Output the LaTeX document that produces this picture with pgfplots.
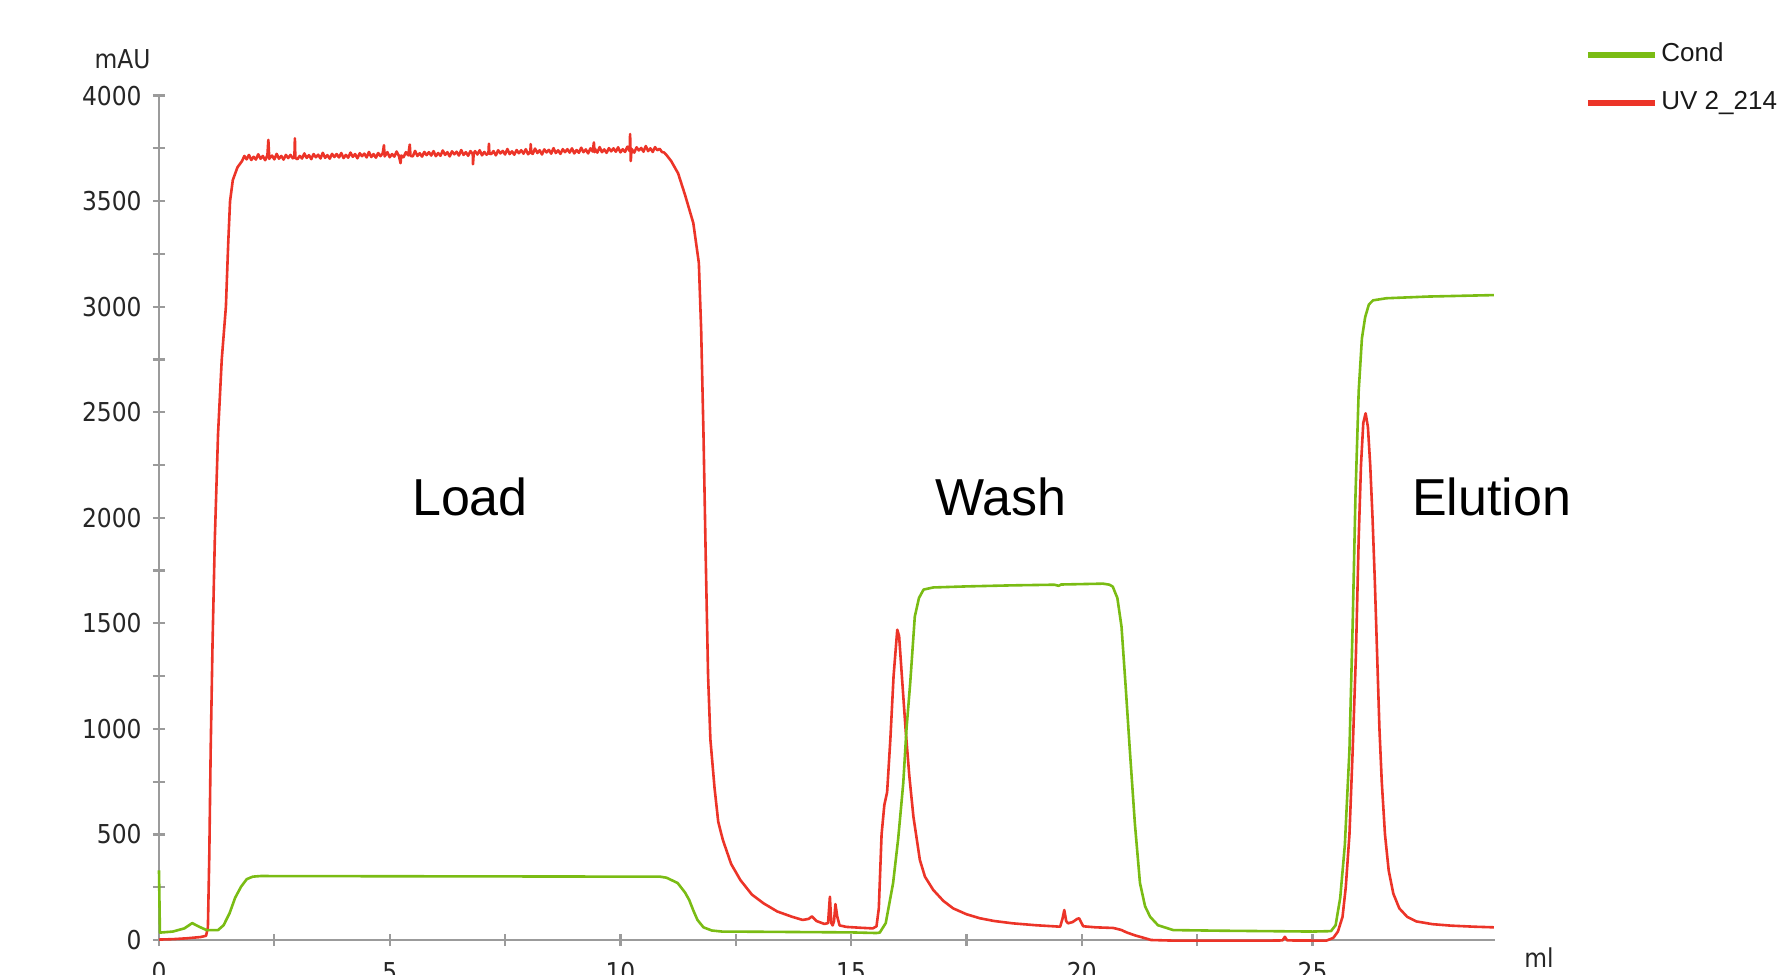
\documentclass[border=0pt]{standalone}
\usepackage{fontspec}
\setmainfont{Liberation Sans}
\newfontfamily\tickfont{DejaVu Sans Condensed}
\usepackage{pgfplots}
\usepackage{pgfplotstable}
\pgfplotsset{compat=1.18}
\definecolor{uvred}{RGB}{236,52,40}
\definecolor{condgreen}{RGB}{122,188,20}
\definecolor{axgray}{RGB}{155,155,155}

\pgfplotstableread{
x y
0 2
0.3 4
0.6 8
0.9 14
1.02 20
1.06 60
1.09 400
1.12 900
1.16 1400
1.21 1900
1.28 2400
1.36 2750
1.45 3000
1.50 3300
1.54 3500
1.60 3600
1.70 3660
1.80 3690
1.85 3714
1.90 3698
1.95 3719
2.00 3695
2.05 3710
2.10 3697
2.15 3722
2.20 3701
2.25 3714
2.30 3694
2.35 3718
2.37 3790
2.39 3700
2.40 3704
2.45 3716
2.50 3698
2.55 3724
2.60 3701
2.65 3714
2.70 3697
2.75 3719
2.80 3704
2.85 3719
2.90 3703
2.935 3712
2.945 3798
2.955 3704
3.00 3699
3.05 3714
3.10 3702
3.15 3726
3.20 3705
3.25 3718
3.30 3699
3.35 3723
3.40 3708
3.45 3720
3.50 3702
3.55 3729
3.60 3705
3.65 3718
3.70 3701
3.75 3724
3.80 3709
3.85 3723
3.90 3707
3.95 3728
4.00 3704
4.05 3719
4.10 3706
4.15 3730
4.20 3710
4.25 3723
4.30 3703
4.35 3727
4.40 3713
4.45 3725
4.50 3707
4.55 3733
4.60 3709
4.65 3723
4.70 3706
4.75 3728
4.80 3713
4.85 3728
4.875 3765
4.89 3712
4.95 3732
5.00 3708
5.05 3723
5.10 3711
5.15 3735
5.20 3714
5.235 3680
5.25 3716
5.30 3708
5.35 3732
5.40 3717
5.435 3768
5.45 3715
5.50 3712
5.55 3738
5.60 3714
5.65 3727
5.70 3711
5.75 3733
5.80 3718
5.85 3732
5.90 3716
5.95 3737
6.00 3713
6.05 3728
6.10 3715
6.15 3740
6.20 3719
6.25 3732
6.30 3712
6.35 3736
6.40 3722
6.45 3734
6.50 3716
6.55 3742
6.60 3719
6.65 3732
6.70 3715
6.75 3737
6.80 3723
6.805 3675
6.82 3725
6.85 3737
6.90 3721
6.95 3741
7.00 3717
7.05 3733
7.10 3720
7.14 3728
7.15 3772
7.16 3725
7.20 3723
7.25 3737
7.30 3717
7.35 3741
7.40 3726
7.45 3738
7.50 3721
7.55 3747
7.60 3723
7.65 3736
7.70 3720
7.75 3742
7.80 3727
7.85 3741
7.90 3725
7.95 3746
8.00 3722
8.05 3737
8.055 3770
8.07 3728
8.10 3724
8.15 3749
8.20 3728
8.25 3741
8.30 3721
8.35 3745
8.40 3731
8.45 3743
8.50 3725
8.55 3751
8.60 3728
8.65 3741
8.70 3724
8.75 3746
8.80 3732
8.85 3746
8.90 3730
8.95 3750
9.00 3726
9.05 3742
9.10 3729
9.15 3753
9.20 3732
9.25 3745
9.30 3726
9.35 3750
9.40 3735
9.425 3778
9.44 3732
9.45 3747
9.50 3730
9.55 3756
9.60 3732
9.65 3745
9.70 3729
9.75 3751
9.80 3736
9.85 3750
9.90 3734
9.95 3755
10.00 3731
10.05 3746
10.10 3733
10.15 3758
10.20 3737
10.21 3818
10.225 3690
10.24 3748
10.30 3730
10.35 3755
10.40 3740
10.45 3752
10.50 3734
10.55 3761
10.60 3737
10.65 3750
10.70 3733
10.75 3756
10.80 3741
10.85 3748
10.90 3733
10.95 3730
11.00 3718
11.10 3690
11.25 3632
11.40 3530
11.58 3396
11.70 3207
11.75 2890
11.80 2400
11.85 1800
11.90 1250
11.95 950
12.04 720
12.12 560
12.22 474
12.40 360
12.60 284
12.85 215
13.10 174
13.40 135
13.72 110
13.95 95
14.08 100
14.15 112
14.25 90
14.42 76
14.50 80
14.54 205
14.57 80
14.60 69
14.63 90
14.66 170
14.70 110
14.75 69
14.90 62
15.20 58
15.47 55
15.55 65
15.60 150
15.66 500
15.72 640
15.78 700
15.85 950
15.92 1250
16.00 1470
16.04 1440
16.10 1250
16.18 1000
16.26 780
16.35 584
16.49 379
16.60 300
16.78 237
17.00 185
17.21 150
17.50 122
17.79 103
18.10 90
18.50 79
19.00 70
19.53 63
19.58 100
19.62 142
19.66 90
19.70 79
19.80 85
19.90 100
19.94 103
20.03 65
20.30 60
20.68 57
20.85 48
20.97 36
21.15 22
21.33 11
21.50 0
22.00 -3
23.00 -3
24.00 -3
24.35 -2
24.40 15
24.45 -2
25.30 -3
25.45 10
25.55 40
25.65 110
25.72 250
25.80 500
25.87 900
25.94 1350
26.00 1900
26.05 2250
26.10 2450
26.15 2495
26.20 2430
26.25 2250
26.30 2000
26.35 1700
26.40 1350
26.45 1000
26.50 750
26.57 500
26.65 330
26.75 220
26.88 150
27.05 110
27.25 88
27.60 75
28.00 68
28.50 63
28.93 60
}\uvtable

\pgfplotstableread{
x y
0 330
0.02 35
0.3 40
0.55 55
0.72 80
0.85 65
1.03 47
1.28 47
1.40 70
1.53 127
1.65 200
1.78 253
1.90 288
2.03 300
2.2 303
5 302
8 301
10.86 300
11.00 295
11.24 270
11.40 225
11.49 190
11.58 140
11.67 95
11.80 60
11.98 45
12.2 40
13 39
15 36
15.55 33
15.62 35
15.75 80
15.91 270
16.02 480
16.13 743
16.20 1000
16.28 1216
16.38 1532
16.47 1620
16.57 1660
16.78 1670
17.5 1675
18.5 1680
19.4 1683
19.5 1678
19.55 1684
20.46 1688
20.60 1683
20.67 1674
20.77 1620
20.86 1484
20.95 1200
21.04 900
21.15 550
21.26 270
21.37 160
21.48 110
21.65 70
21.98 47
23 44
24 42
25 40
25.4 42
25.5 70
25.6 200
25.7 450
25.8 900
25.87 1500
25.93 2100
26.00 2600
26.07 2850
26.14 2950
26.22 3010
26.31 3030
26.6 3040
27.5 3048
28.93 3055
}\condtable

\begin{document}
\begin{tikzpicture}
\path[use as bounding box] (-79.5pt,-17.5pt) rectangle (812.5pt,470pt);
\begin{axis}[
  at={(0pt,0pt)}, anchor=south west,
  width=667.9pt, height=422.2pt, scale only axis,
  xmin=0, xmax=28.95, ymin=0, ymax=4000,
  clip=false,
  axis x line*=bottom, axis y line*=left,
  axis line style={axgray, line width=1.2pt, -},
  xtick={0,5,...,25}, ytick={0,500,...,4000},
  minor x tick num=1, minor y tick num=1,
  tick align=center,
  major tick length=6pt, minor tick length=6pt,
  tick style={axgray, line width=1.1pt},
  /pgf/number format/assume math mode=true,
  /pgf/number format/1000 sep={},
  ticklabel style={font=\tickfont\fontsize{13}{15}\selectfont, text=black!85},
  yticklabel style={inner sep=0pt},
  xticklabel style={inner sep=0pt},
  yticklabel shift=5.5pt,
  xticklabel shift=8pt,
  ylabel={mAU},
  ylabel style={rotate=-90, at={(rel axis cs:-0.006,1.043)}, anchor=east, inner sep=0pt, font=\tickfont\fontsize{13}{15}\selectfont, text=black!85},
  xlabel={ml},
  xlabel style={at={(rel axis cs:1.033,0)}, anchor=base, yshift=-14pt, inner sep=0pt, font=\tickfont\fontsize{13}{15}\selectfont, text=black!85},
  reverse legend,
  legend style={draw=none, fill=none, at={(rel axis cs:1.0675,1.0197)}, anchor=west,
    inner sep=0pt, outer sep=0pt, row sep=12pt, column sep=1.7pt,
    font=\fontsize{13}{15}\selectfont, text=black!90,
    nodes={inner sep=0pt, text height=9.3pt, text depth=2.5pt}},
  legend cell align=left,
  legend image code/.code={\draw[line width=3pt] (0pt,0pt) -- (33.5pt,0pt);},
]
\addplot[uvred, line width=1.3pt, line join=round] table[x=x,y=y] {\uvtable};
\addlegendentry{UV 2\_214}
\addplot[condgreen, line width=1.3pt, line join=round] table[x=x,y=y] {\condtable};
\addlegendentry{Cond}
\node[font=\fontsize{26}{30}\selectfont] at (axis cs:6.74,2098) {Load};
\node[font=\fontsize{26}{30}\selectfont] at (axis cs:18.25,2098) {Wash};
\node[font=\fontsize{26}{30}\selectfont] at (axis cs:28.88,2098) {Elution};
\end{axis}
\end{tikzpicture}
\end{document}
